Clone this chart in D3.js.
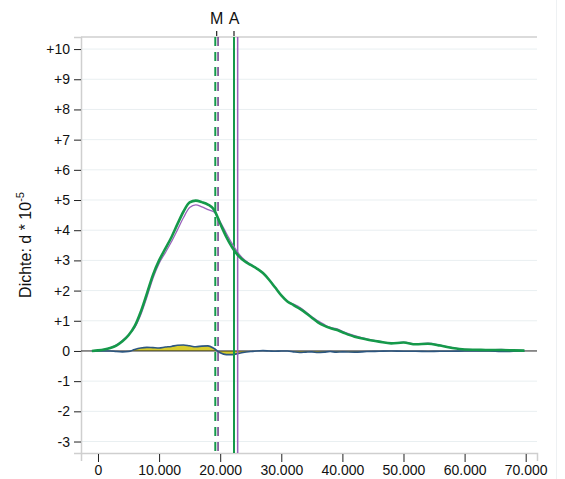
<!DOCTYPE html>
<meta charset="utf-8">
<style>
body{ margin:0; background:#fff; }
text{ font-family: "Liberation Sans", Arial, sans-serif; fill:#111; }
</style>
<svg width="565" height="479"></svg>
<script src="https://d3js.org/d3.v7.min.js"></script>
<script>
// x grid in thousands (income), density values in 1e-5
var xs = [-1, 0, 1, 2, 3, 4, 5, 6, 7, 8, 9, 10, 11, 12, 13, 14, 15, 16, 17, 18, 19, 20,
    21, 22, 23, 24, 25, 26, 27, 28, 29, 30, 31, 32, 33, 34, 35, 36, 37, 38, 39, 40,
    42, 44, 46, 48, 50, 52, 54, 56, 58, 60, 62, 64, 66, 68, 69.8];
var greenDens = [0, 0.02, 0.05, 0.1, 0.18, 0.32, 0.52, 0.82, 1.3, 1.9, 2.52, 3.0, 3.38, 3.76, 4.2, 4.62, 4.92, 4.98, 4.93, 4.85, 4.68, 4.22,
    3.78, 3.42, 3.15, 2.97, 2.85, 2.73, 2.58, 2.36, 2.1, 1.84, 1.64, 1.52, 1.4, 1.26, 1.1, 0.95, 0.84, 0.76, 0.7, 0.62,
    0.47, 0.38, 0.31, 0.25, 0.28, 0.22, 0.24, 0.18, 0.1, 0.05, 0.04, 0.03, 0.03, 0.02, 0.01];
var purpleDens = [0, 0.02, 0.05, 0.1, 0.2, 0.35, 0.54, 0.77, 1.2, 1.78, 2.41, 2.9, 3.25, 3.61, 4.01, 4.42, 4.75, 4.84, 4.77, 4.68, 4.6, 4.28,
    3.9, 3.54, 3.23, 3.01, 2.87, 2.73, 2.57, 2.36, 2.11, 1.84, 1.64, 1.55, 1.45, 1.3, 1.13, 1.0, 0.88, 0.78, 0.74, 0.65,
    0.51, 0.4, 0.32, 0.25, 0.29, 0.23, 0.26, 0.19, 0.11, 0.05, 0.04, 0.03, 0.05, 0.03, 0.01];
var diffDens = [0, 0, 0, 0, -0.02, -0.03, -0.02, 0.05, 0.1, 0.12, 0.11, 0.1, 0.13, 0.15, 0.19, 0.2, 0.17, 0.14, 0.16, 0.17, 0.08, -0.06,
    -0.12, -0.12, -0.08, -0.04, -0.02, 0, 0.01, 0, -0.01, 0, 0, -0.03, -0.05, -0.04, -0.03, -0.05, -0.04, -0.02, -0.04, -0.03,
    -0.04, -0.02, -0.01, 0, -0.01, -0.01, -0.02, -0.01, -0.01, 0, 0, 0, -0.02, -0.01, 0];
// medians (M) and means (A), thousands
var medianGreen = 19.2, medianPurple = 19.65;
var meanGreen = 22.26, meanPurple = 22.86;
var xTicks = [0, 10, 20, 30, 40, 50, 60, 70];
var yTicks = [-3, -2, -1, 0, 1, 2, 3, 4, 5, 6, 7, 8, 9, 10];

var svg = d3.select("svg");
var pLeft = 81, pRight = 537, pTop = 37, pBottom = 453;
var x = d3.scaleLinear().domain([-2.78, 71.85]).range([pLeft, pRight]);
var y = d3.scaleLinear().domain([-3.38, 10.4]).range([pBottom, pTop]);
var de = d3.formatLocale({decimal: ",", thousands: ".", grouping: [3], currency: ["", "€"]});
var fmtX = de.format(",.0f");

var green = "#15994a", purple = "#9a62bb", yellow = "#d8cc2c", blue = "#2c5680";

// faint frame line at right
svg.append("line").attr("x1", 556.5).attr("x2", 556.5).attr("y1", 0).attr("y2", 479)
    .attr("stroke", "#eef1f3").attr("stroke-width", 1);

// grid
svg.append("g").selectAll("line").data(yTicks.filter(function(d){ return d !== 0; }))
    .enter().append("line")
    .attr("x1", pLeft).attr("x2", pRight)
    .attr("y1", function(d){ return y(d); }).attr("y2", function(d){ return y(d); })
    .attr("stroke", "#e9eff1").attr("stroke-width", 1);

// top frame line
svg.append("line").attr("x1", pLeft).attr("x2", pRight).attr("y1", pTop).attr("y2", pTop)
    .attr("stroke", "#cfcfcf").attr("stroke-width", 1.5);

// y axis
var gy = svg.append("g").attr("transform", "translate(" + pLeft + ",0)")
    .call(d3.axisLeft(y).tickValues(yTicks).tickSize(7).tickPadding(4)
        .tickFormat(function(d){ return d > 0 ? "+" + d : String(d); }));
gy.select(".domain").attr("stroke", "#cfcfcf").attr("stroke-width", 1.5);
gy.selectAll(".tick line").attr("stroke", "#222");
gy.selectAll(".tick text").style("font-size", "14px");
gy.attr("font-family", null);

// x axis
var gx = svg.append("g").attr("transform", "translate(0," + pBottom + ")")
    .call(d3.axisBottom(x).tickValues(xTicks).tickSize(8).tickPadding(4)
        .tickFormat(function(d){ return d === 0 ? "0" : fmtX(d * 1000); }));
gx.select(".domain").attr("stroke", "#cfcfcf").attr("stroke-width", 1.5);
gx.selectAll(".tick line").attr("stroke", "#222").attr("transform", "translate(0,1)");
gx.selectAll(".tick text").style("font-size", "14px");
gx.attr("font-family", null);

// difference area
var pts = xs.map(function(v, i){ return [v, greenDens[i], purpleDens[i], diffDens[i]]; });
svg.append("path").datum(pts)
    .attr("d", d3.area().curve(d3.curveMonotoneX)
        .x(function(d){ return x(d[0]); }).y0(y(0)).y1(function(d){ return y(d[3]); }))
    .attr("fill", yellow);

// zero line
svg.append("line").attr("x1", pLeft).attr("x2", pRight).attr("y1", y(0)).attr("y2", y(0))
    .attr("stroke", "#222").attr("stroke-width", 1);

svg.append("path").datum(pts)
    .attr("d", d3.line().curve(d3.curveMonotoneX)
        .x(function(d){ return x(d[0]); }).y(function(d){ return y(d[3]); }))
    .attr("fill", "none").attr("stroke", blue).attr("stroke-width", 1.6);

// vertical lines
function vline(v, color, w, dash){
    svg.append("line").attr("x1", x(v)).attr("x2", x(v)).attr("y1", pTop).attr("y2", pBottom)
        .attr("stroke", color).attr("stroke-width", w)
        .attr("stroke-dasharray", dash || null);
}
vline(medianGreen, green, 2, "9,6");
vline(medianPurple, "#6a3d88", 1.5, "9,6");
vline(meanGreen, green, 2);
vline(meanPurple, purple, 1.5);

// density curves
svg.append("path").datum(pts)
    .attr("d", d3.line().curve(d3.curveMonotoneX)
        .x(function(d){ return x(d[0]); }).y(function(d){ return y(d[2]); }))
    .attr("fill", "none").attr("stroke", purple).attr("stroke-width", 1.3);
svg.append("path").datum(pts)
    .attr("d", d3.line().curve(d3.curveMonotoneX)
        .x(function(d){ return x(d[0]); }).y(function(d){ return y(d[1]); }))
    .attr("fill", "none").attr("stroke", green).attr("stroke-width", 2.6);

// top markers M / A
var marks = [{lab: "M", v: (medianGreen + medianPurple) / 2}, {lab: "A", v: meanGreen}];
marks.forEach(function(m){
    svg.append("line").attr("x1", x(m.v)).attr("x2", x(m.v)).attr("y1", pTop - 6).attr("y2", pTop - 1)
        .attr("stroke", "#222").attr("stroke-width", 1.2);
    svg.append("text").attr("x", x(m.v)).attr("y", 24).attr("text-anchor", "middle")
        .style("font-size", "16px").text(m.lab);
});

// y title
var ty = svg.append("text").attr("transform", "translate(31," + 245 + ") rotate(-90)")
    .attr("text-anchor", "middle").style("font-size", "16px");
ty.append("tspan").text("Dichte: d * 10");
ty.append("tspan").attr("dy", -7).style("font-size", "11px").text("-5");
</script>
